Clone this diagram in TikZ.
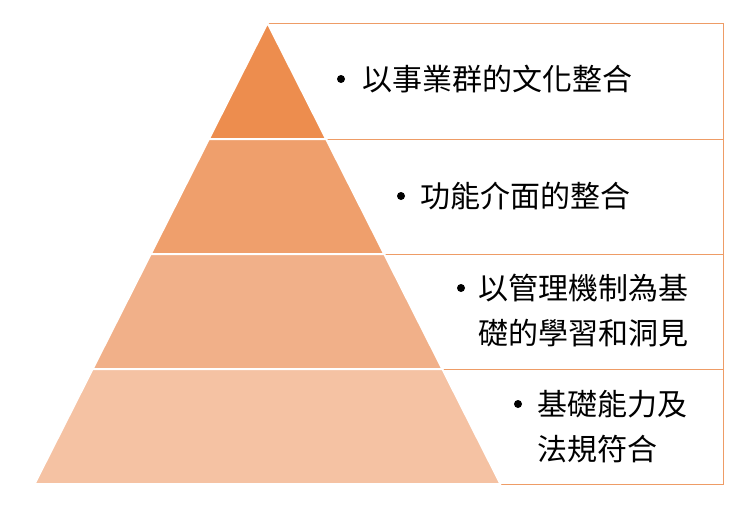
\documentclass[tikz,border=0pt]{standalone}
\usepackage{fontspec}
\setmainfont{Noto Sans CJK TC}
\usepackage{tikz}
\usetikzlibrary{positioning}
\definecolor{layerA}{HTML}{ED8D4E}
\definecolor{layerB}{HTML}{EF9F6C}
\definecolor{layerC}{HTML}{F1B089}
\definecolor{layerD}{HTML}{F5C2A3}
\definecolor{framecol}{HTML}{EE9C66}
\tikzset{
        frame/.style={draw=framecol, line width=1pt},
        layer/.style={draw=white, line width=2pt, line join=round},
        lbl/.style={font=\fontsize{30}{45}\selectfont, inner sep=0pt,
                    align=left, anchor=base west},
        bul/.style={circle, fill=black, inner sep=0pt, minimum size=8pt},
 }

\begin{document}
\begin{tikzpicture}[x=1pt,y=-1pt]
    \useasboundingbox (0,0) rectangle (740,506);

    % boxes behind the pyramid
    \foreach \ya/\yb in {23/139, 139/254, 254/369, 369/484}
        \draw[frame] (268,\ya) rectangle (723,\yb);

    % pyramid layers
    \foreach \ya/\yb/\col in {23/139/layerA, 139/254/layerB,
                              254/369/layerC, 369/484/layerD}
        \filldraw[layer, fill=\col]
            ({267.5-0.5054*(\ya-23)},\ya) -- ({267.5+0.5054*(\ya-23)},\ya)
            -- ({267.5+0.5054*(\yb-23)},\yb) -- ({267.5-0.5054*(\yb-23)},\yb)
            -- cycle;

    \node[bul] (b1) at (341,79) {};
    \node[lbl] (t1) at (362,90) {以事業群的文化整合};
    \node[bul] (b2) at (401,196) {};
    \node[lbl] (t2) at (420,207) {功能介面的整合};
    \node[bul] (b3) at (461,288) {};
    \node[lbl] (t3) at (478,344) {以管理機制為基\\礎的學習和洞見};
    \node[bul] (b4) at (518,404) {};
    \node[lbl] (t4) at (537,460) {基礎能力及\\法規符合};

\end{tikzpicture}
\end{document}
